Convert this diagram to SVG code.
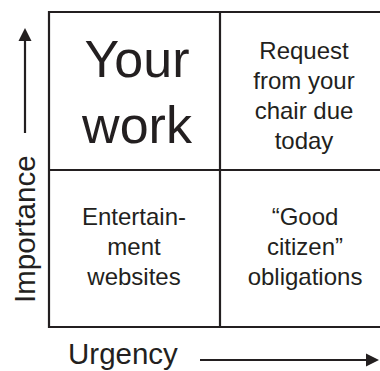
<svg xmlns="http://www.w3.org/2000/svg" width="380" height="371" viewBox="0 0 380 371">
<style>
.ln{stroke:#231f20;stroke-width:2.2;fill:none}
.t{font-family:"Liberation Sans",Arial,sans-serif;fill:#231f20;text-anchor:middle}
.s{font-size:24px}
.b{font-size:52px}
.ax{font-size:29.5px;font-family:"Liberation Sans",Arial,sans-serif;fill:#231f20}
.ah{fill:#231f20}
</style>
<rect width="380" height="371" fill="#fff"/>
<g id="grid">
<path class="ln" d="M49,12 H380 M49,170 H380 M49,327 H380 M49,11 V328 M220,12 V327"/>
</g>
<g id="q-your-work">
<text class="t b" x="137" y="77">Your</text>
<text class="t b" x="137" y="143">work</text>
</g>
<g id="q-request">
<text class="t s" x="304" y="59">Request</text>
<text class="t s" x="304" y="89">from your</text>
<text class="t s" x="304" y="119">chair due</text>
<text class="t s" x="304" y="149">today</text>
</g>
<g id="q-entertainment">
<text class="t s" x="134" y="225">Entertain-</text>
<text class="t s" x="134" y="255">ment</text>
<text class="t s" x="134" y="285">websites</text>
</g>
<g id="q-good-citizen">
<text class="t s" x="305" y="225">“Good</text>
<text class="t s" x="305" y="255">citizen”</text>
<text class="t s" x="305" y="285">obligations</text>
</g>
<g id="axis-labels">
<text class="ax" x="68" y="364">Urgency</text>
<text class="ax" transform="translate(35,303) rotate(-90)">Importance</text>
</g>
<g id="connectors">
<path class="ln" d="M25,133 V38"/>
<polygon class="ah" points="25,28 31.5,41 18.5,41"/>
<path class="ln" d="M200,360 H368"/>
<polygon class="ah" points="379,360 366,353.5 366,366.5"/>
</g>
</svg>
